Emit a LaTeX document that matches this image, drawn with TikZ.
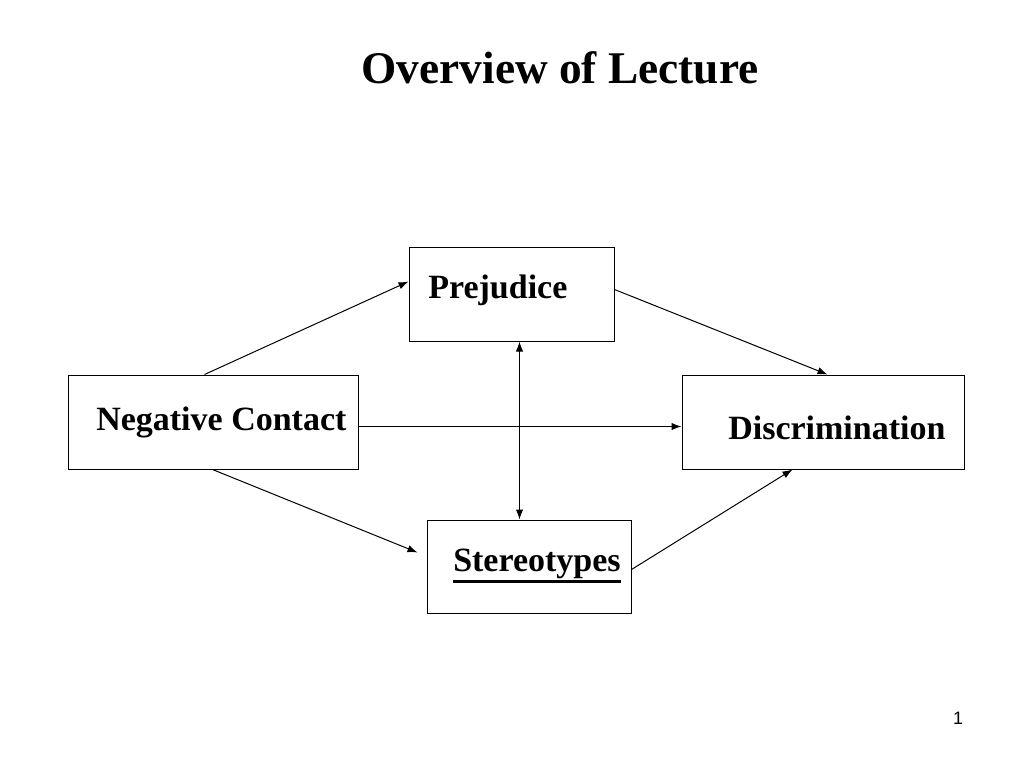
\documentclass[tikz,border=0pt]{standalone}
\usepackage{fontspec}
\setmainfont{Liberation Serif}
\newfontfamily\pagefont{Liberation Sans}
\usetikzlibrary{arrows.meta,calc}
\tikzset{
  box/.style={draw=black, line width=0.75pt, inner sep=0pt},
  lbl/.style={font=\bfseries\fontsize{25.5}{30}\selectfont, inner sep=0pt, anchor=base west},
  arr/.style={line width=0.75pt, -{Latex[length=7.5pt,width=5.5pt]}},
  arrb/.style={line width=0.75pt, {Latex[length=7.5pt,width=5.5pt]}-{Latex[length=7.5pt,width=5.5pt]}}
}
\begin{document}
\begin{tikzpicture}[x=0.75pt,y=-0.75pt]
\useasboundingbox[fill=white] (0,0) rectangle (1024,768);
\node[inner sep=0pt, anchor=base, font=\bfseries\fontsize{34}{40}\selectfont] (title) at (560,83) {Overview of Lecture};
\node[box, minimum width=205*0.75pt, minimum height=94*0.75pt] (pj) at (511.5,294) {};
\node[box, minimum width=290*0.75pt, minimum height=94*0.75pt] (nc) at (213,422) {};
\node[box, minimum width=282*0.75pt, minimum height=94*0.75pt] (dc) at (823,422) {};
\node[box, minimum width=204*0.75pt, minimum height=93*0.75pt] (st) at (529,566.5) {};
\node[lbl] (pjt) at (428,298) {Prejudice};
\node[lbl] (nct) at (96,430) {Negative Contact};
\node[lbl] (dct) at (728,439) {Discrimination};
\node[lbl] (stt) at (453,571) {Stereotypes};
\draw[line width=1.6pt] ($(stt.base west)+(0,10.5)$) -- ($(stt.base east)+(0,10.5)$);
\node[inner sep=0pt, anchor=base, font=\pagefont\fontsize{13.5}{16}\selectfont] (pg) at (958,724) {1};
% connectors
\draw[arr] ($(nc.north west)+(137,0)$) -- ($(pj.north west)+(0,35)$);
\draw[arr] ($(pj.north east)+(0,43)$) -- ($(dc.north west)+(146,0)$);
\draw[arr] ($(nc.north east)+(0,52)$) -- ($(dc.north west)+(0,52)$);
\draw[arrb] ($(pj.south west)+(111,0)$) -- ($(st.north west)+(93,0)$);
\draw[arr] ($(nc.south west)+(145,0)$) -- ($(st.north west)+(-9,33)$);
\draw[arr] ($(st.north east)+(0,50)$) -- ($(dc.south west)+(111,0)$);
\end{tikzpicture}
\end{document}
